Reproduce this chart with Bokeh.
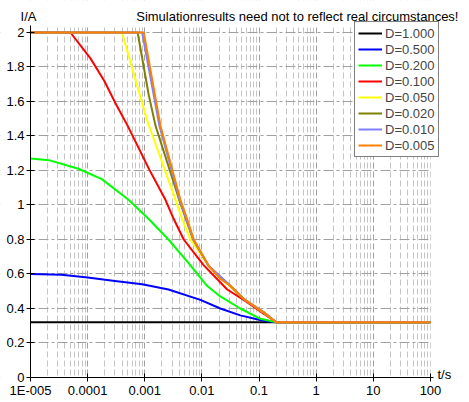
from bokeh.plotting import figure
from bokeh.models import FixedTicker, Label, Legend, LegendItem, Range1d, BoxAnnotation
from bokeh.embed import file_html
from bokeh.resources import INLINE

# ---- data ----
series_labels = ["D=1.000", "D=0.500", "D=0.200", "D=0.100",
                 "D=0.050", "D=0.020", "D=0.010", "D=0.005"]
series_colors = ["#000000", "#0000ff", "#00ff00", "#ff0000",
                 "#ffff00", "#808000", "#8080ff", "#ff8000"]

t_d1000 = [1e-5, 100]
i_d1000 = [0.32, 0.32]

t_d0500 = [1e-5, 3.5e-5, 1.0e-4, 3.0e-4, 9e-4, 2.6e-3, 9.4e-3, 0.021, 0.047, 0.10, 0.15, 0.2, 100]
i_d0500 = [0.60, 0.595, 0.58, 0.56, 0.54, 0.51, 0.45, 0.40, 0.36, 0.335, 0.325, 0.32, 0.32]

t_d0200 = [1e-5, 2.1e-5, 6.9e-5, 1.77e-4, 5.2e-4, 1.16e-3, 2.6e-3, 6.3e-3, 0.0124, 0.021, 0.047, 0.106, 0.2, 100]
i_d0200 = [1.27, 1.26, 1.21, 1.15, 1.03, 0.92, 0.80, 0.65, 0.53, 0.47, 0.40, 0.34, 0.32, 0.32]

t_d0100 = [1e-5, 5.0e-5, 1.12e-4, 1.95e-4, 3.07e-4, 5.0e-4, 1.2e-3, 2.3e-3, 3.2e-3, 4.8e-3, 0.0108, 0.0277, 0.06, 0.12, 0.2, 100]
i_d0100 = [2.0, 2.0, 1.85, 1.72, 1.59, 1.46, 1.205, 1.03, 0.92, 0.80, 0.65, 0.51, 0.44, 0.37, 0.32, 0.32]

t_d0050 = [1e-5, 4.0e-4, 1.1e-3, 3.45e-3, 4.5e-3, 6.3e-3, 0.0132, 0.03, 0.06, 0.12, 0.2, 100]
i_d0050 = [2.0, 2.0, 1.49, 1.03, 0.92, 0.80, 0.645, 0.53, 0.445, 0.375, 0.32, 0.32]

t_d0020 = [1e-5, 7.5e-4, 1.17e-3, 1.54e-3, 4.0e-3, 7.0e-3, 0.0132, 0.0316, 0.054, 0.121, 0.2, 100]
i_d0020 = [2.0, 2.0, 1.64, 1.46, 1.03, 0.80, 0.645, 0.53, 0.455, 0.378, 0.32, 0.32]

t_d0010 = [1e-5, 9.0e-4, 1.8e-3, 4.1e-3, 7.1e-3, 0.0132, 0.0316, 0.054, 0.121, 0.2, 100]
i_d0010 = [2.0, 2.0, 1.46, 1.03, 0.80, 0.647, 0.532, 0.455, 0.378, 0.32, 0.32]

t_d0005 = [1e-5, 9.6e-4, 1.88e-3, 4.2e-3, 5.5e-3, 7.2e-3, 0.0132, 0.0211, 0.0316, 0.054, 0.121, 0.2, 100]
i_d0005 = [2.0, 2.0, 1.46, 1.03, 0.92, 0.80, 0.647, 0.571, 0.532, 0.455, 0.378, 0.32, 0.32]

series_t = [t_d1000, t_d0500, t_d0200, t_d0100, t_d0050, t_d0020, t_d0010, t_d0005]
series_i = [i_d1000, i_d0500, i_d0200, i_d0100, i_d0050, i_d0020, i_d0010, i_d0005]

x_ticks = [1e-5, 1e-4, 1e-3, 1e-2, 1e-1, 1, 10, 100]
x_tick_labels = ["1E-005", "0.0001", "0.001", "0.01", "0.1", "1", "10", "100"]
y_ticks = [0, 0.2, 0.4, 0.6, 0.8, 1, 1.2, 1.4, 1.6, 1.8, 2]
y_tick_labels = ["0", "0.2", "0.4", "0.6", "0.8", "1", "1.2", "1.4", "1.6", "1.8", "2"]

title_text = "Simulationresults need not to reflect real circumstances!"
y_label_text = "I/A"
x_label_text = "t/s"

FONT = "Liberation Sans"

# axis extents and the (larger) frame that also holds tick labels and headers
X_MIN, X_AXIS_END = 1e-5, 112
Y_MIN, Y_AXIS_END = 0, 2.04
X_FRAME = (2.985e-6, 482)
Y_FRAME = (-0.145, 2.1855)
Y_HEADER = 2.139

p = figure(width=469, height=402, x_axis_type="log",
           x_range=Range1d(*X_FRAME), y_range=Range1d(*Y_FRAME),
           output_backend="svg", toolbar_location=None,
           min_border_left=0, min_border_right=0,
           min_border_top=0, min_border_bottom=0)
p.outline_line_color = None
p.background_fill_color = "white"
p.border_fill_color = "white"

x_minor = [m * 10.0 ** k for k in range(-5, 2) for m in range(2, 10)]
xt = FixedTicker(ticks=x_ticks, minor_ticks=x_minor)
yt = FixedTicker(ticks=y_ticks)
p.xaxis.ticker = xt
p.yaxis.ticker = yt
p.xgrid.ticker = xt
p.ygrid.ticker = yt
p.xaxis.major_label_overrides = dict(zip(x_ticks, x_tick_labels))
p.yaxis.major_label_overrides = dict(zip(y_ticks, y_tick_labels))
p.xaxis.bounds = (X_MIN, X_AXIS_END)
p.yaxis.bounds = (Y_MIN, Y_AXIS_END)
p.xaxis.fixed_location = Y_MIN
p.yaxis.fixed_location = X_MIN

for ax in (p.xaxis[0], p.yaxis[0]):
    ax.axis_label = None
    ax.axis_line_color = "black"
    ax.major_tick_line_color = "black"
    ax.major_tick_in = 4
    ax.major_tick_out = 4
    ax.minor_tick_line_color = None
    ax.major_label_text_font = FONT
    ax.major_label_text_font_size = "13px"
    ax.major_label_text_color = "black"
    ax.major_label_standoff = 2

p.xgrid.grid_line_color = "#a0a0a0"
p.xgrid.grid_line_dash = "6 3"
p.xgrid.minor_grid_line_color = "#c4c4c4"
p.xgrid.minor_grid_line_dash = "6 3"
p.ygrid.grid_line_color = "#a0a0a0"
p.ygrid.grid_line_dash = "10 3 3 3"

# white masks over the grid outside the plotted area
mask = dict(fill_color="white", fill_alpha=1, line_color=None, level="underlay")
p.add_layout(BoxAnnotation(left=100, **mask))
p.add_layout(BoxAnnotation(right=X_MIN, **mask))
p.add_layout(BoxAnnotation(bottom=Y_AXIS_END, **mask))
p.add_layout(BoxAnnotation(top=Y_MIN, **mask))

items = []
for lab, col, ts, vs in zip(series_labels, series_colors, series_t, series_i):
    lr = p.line(ts, vs, line_color=col, line_width=2)
    sr = p.scatter(x=[], y=[], marker="square", size=7, fill_color=col, line_color=col)
    items.append(LegendItem(label=lab, renderers=[lr, sr]))

legend = Legend(items=items, location=(354, 245),
                label_text_font=FONT, label_text_font_size="13px",
                label_height=16, glyph_height=16, glyph_width=24,
                spacing=0, padding=3, label_standoff=3,
                border_line_color="black", border_line_width=1,
                background_fill_color="white", background_fill_alpha=1)
p.add_layout(legend)

common = dict(text_font=FONT, text_font_size="13px", text_color="black")
p.add_layout(Label(x=X_MIN, y=Y_HEADER, text=y_label_text, text_align="center",
                   text_baseline="top", x_offset=-2, **common))
p.add_layout(Label(x=100, y=Y_HEADER, text=title_text, text_align="right",
                   text_baseline="top", x_offset=28, **common))
p.add_layout(Label(x=100, y=0.02, text=x_label_text, text_align="left",
                   text_baseline="middle", x_offset=7, **common))

open("out.html", "w").write(file_html(p, INLINE))
